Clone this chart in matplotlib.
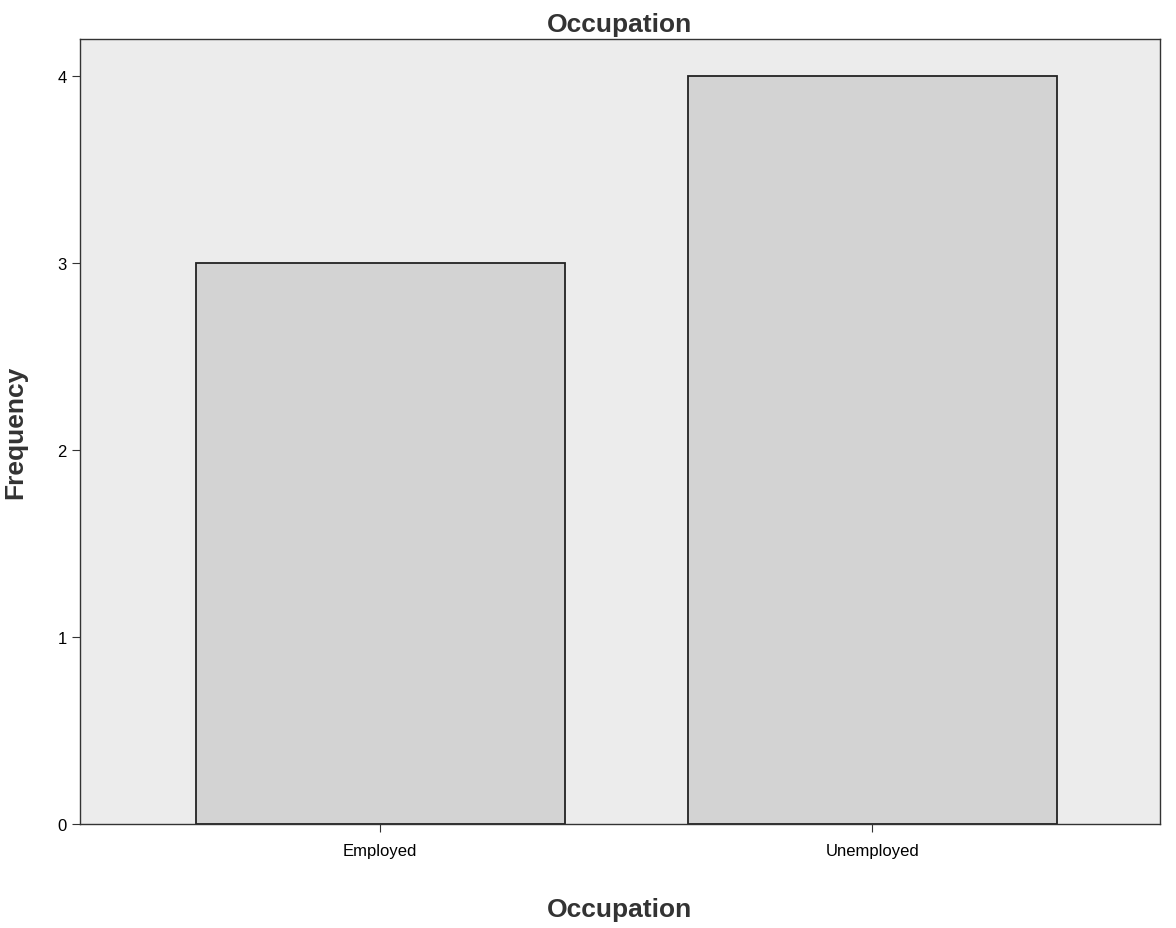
import matplotlib
matplotlib.use("Agg")
import matplotlib.pyplot as plt

plt.rcParams["font.family"] = ["Liberation Sans", "DejaVu Sans"]

categories = ["Employed", "Unemployed"]
frequencies = [3, 4]
yticks = [0, 1, 2, 3, 4]

fig = plt.figure(figsize=(11.76, 9.29), dpi=100)
fig.patch.set_facecolor("white")
ax = fig.add_axes([80/1176, 1-825/929, 1080/1176, 785/929])
ax.set_facecolor("#ececec")

x = list(range(len(categories)))
ax.bar(x, frequencies, width=0.75, color="#d3d3d3", edgecolor="#222222", linewidth=1.3)

ax.set_xlim(-0.61, 1.585)
ax.set_ylim(0, 4.2)
ax.set_yticks(yticks)
ax.set_yticklabels([str(t) for t in yticks], fontsize=12)
ax.set_xticks(x)
ax.set_xticklabels(categories, fontsize=12)
ax.tick_params(axis="both", length=6, color="#333333")
ax.tick_params(axis="x", pad=8)
for s in ax.spines.values():
    s.set_color("#333333")
    s.set_linewidth(1.0)

ax.set_title("Occupation", fontsize=19, fontweight="bold", color="#333333", pad=6)
ax.set_xlabel("Occupation", fontsize=19, fontweight="bold", color="#333333", labelpad=28)
ax.set_ylabel("Frequency", fontsize=19, fontweight="bold", color="#333333", labelpad=22)

fig.savefig("out.png", dpi=100)
